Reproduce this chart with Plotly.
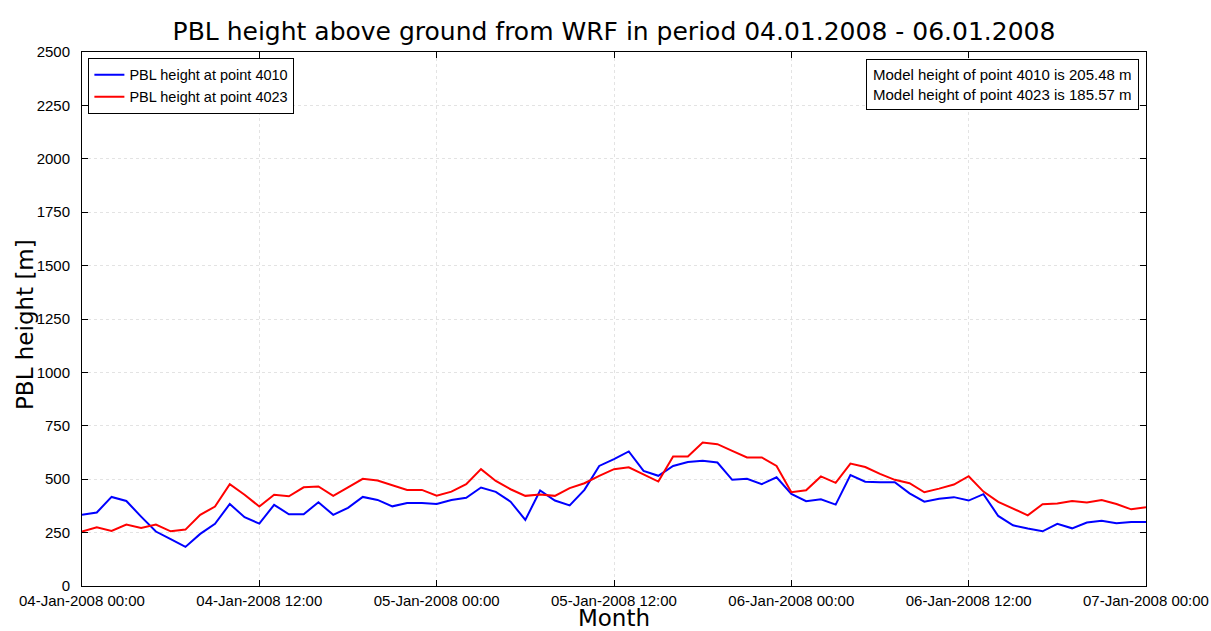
import plotly.graph_objects as go
import pandas as pd

hours = pd.date_range("2008-01-04 00:00", "2008-01-07 00:00", freq="h")

pbl_4010 = [333, 344, 417, 398, 325, 255, 219, 183, 244, 291, 384, 322, 292, 380, 336, 336, 392, 333, 366,
            417, 403, 373, 388, 388, 384, 403, 413, 461, 441, 395, 309, 447, 400, 377, 450, 562,
            594, 630, 539, 516, 562, 580, 586, 578, 497, 502, 477, 509, 431, 397, 406, 381, 519, 488,
            486, 486, 434, 395, 408, 416, 400, 430, 328, 284, 269, 256, 291, 270, 297, 306, 294, 300, 300]
pbl_4023 = [255, 275, 258, 288, 272, 288, 256, 264, 333, 372, 477, 427, 372, 427, 420, 462, 466, 422, 462,
            502, 494, 472, 450, 450, 423, 442, 477, 547, 492, 453, 422, 428, 422, 458, 481, 516,
            547, 556, 523, 489, 606, 606, 672, 664, 633, 602, 602, 562, 439, 448, 513, 483, 573, 557,
            525, 497, 481, 439, 456, 475, 514, 442, 394, 363, 331, 383, 386, 398, 391, 403, 384, 359, 369]

tick_times = pd.date_range("2008-01-04 00:00", "2008-01-07 00:00", freq="12h")
tick_labels = [t.strftime("%d-%b-%Y %H:%M") for t in tick_times]
y_ticks = list(range(0, 2501, 250))

font = "Liberation Sans, Arial, sans-serif"
title_font = "DejaVu Sans, Verdana, sans-serif"

fig = go.Figure()
fig.add_trace(go.Scatter(x=hours, y=pbl_4010, mode="lines", name="PBL height at point 4010",
                         line=dict(color="#0000ff", width=2)))
fig.add_trace(go.Scatter(x=hours, y=pbl_4023, mode="lines", name="PBL height at point 4023",
                         line=dict(color="#ff0000", width=2)))

fig.update_layout(
    width=1211, height=631,
    paper_bgcolor="white", plot_bgcolor="white",
    margin=dict(l=82, r=65, t=52, b=45),
    font=dict(family=font, color="black", size=15),
    title=dict(text="PBL height above ground from WRF in period 04.01.2008 - 06.01.2008",
               xref="paper", x=0.5, xanchor="center", y=1 - 31 / 631, yanchor="middle",
               font=dict(size=25, family=title_font)),
    showlegend=True,
    legend=dict(x=0.006, y=0.989, xanchor="left", yanchor="top",
                bgcolor="white", bordercolor="black", borderwidth=1,
                font=dict(size=14.5, family=font), tracegroupgap=0),
    annotations=[
        dict(text="Model height of point 4010 is 205.48 m<br>Model height of point 4023 is 185.57 m",
             xref="paper", yref="paper", x=0.9935, y=0.986, xanchor="right", yanchor="top",
             showarrow=False, align="center", bordercolor="black", borderwidth=1,
             borderpad=6, bgcolor="white", font=dict(size=15, family=font)),
        dict(text="PBL height [m]", xref="paper", yref="paper",
             x=-(82 - 25) / 1064, y=(586 - 325) / 534, xanchor="center", yanchor="middle",
             textangle=-90, showarrow=False, font=dict(size=23, family=title_font)),
    ],
)

fig.update_xaxes(
    range=[hours[0], hours[-1]], tickvals=tick_times, ticktext=tick_labels,
    tickfont=dict(size=15), ticks="inside", ticklen=6, tickcolor="black",
    showline=True, linecolor="black", linewidth=1, mirror="ticks",
    showgrid=True, gridcolor="#e3e3e3", griddash="dot", gridwidth=1,
    zeroline=False, automargin=False, ticklabelstandoff=1,
    title=dict(text="Month", font=dict(size=23, family=title_font), standoff=4),
)
fig.update_yaxes(
    range=[0, 2500], tickvals=y_ticks, ticktext=[str(v) for v in y_ticks],
    tickfont=dict(size=15), ticks="inside", ticklen=6, tickcolor="black",
    showline=True, linecolor="black", linewidth=1, mirror="ticks",
    showgrid=True, gridcolor="#e3e3e3", griddash="dot", gridwidth=1,
    zeroline=False, automargin=False, ticklabelstandoff=8,
)

fig.write_html("out.html", config={"displayModeBar": False},
               post_script="document.body.style.margin='0px';")
